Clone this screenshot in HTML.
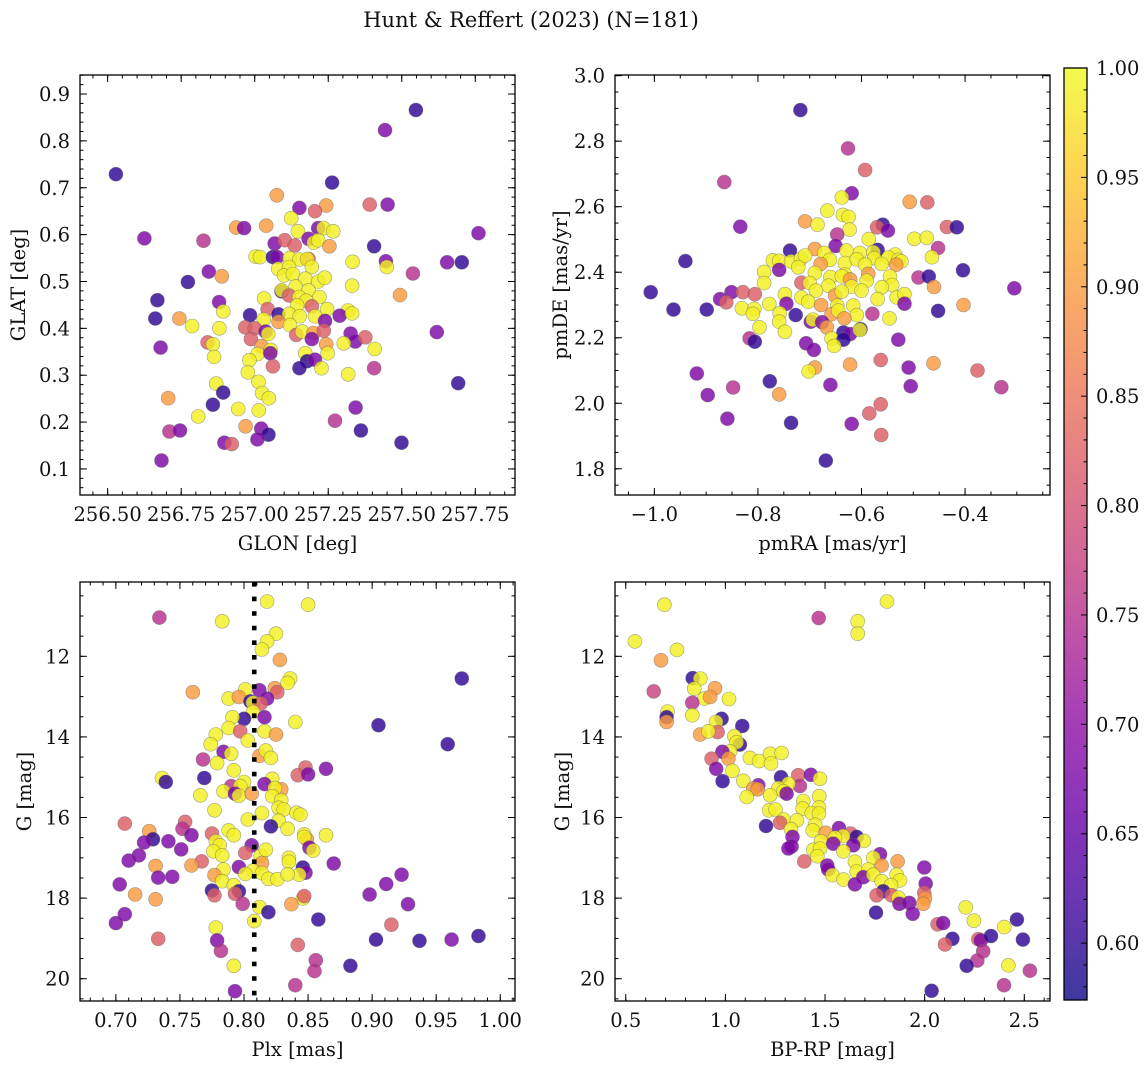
<!DOCTYPE html>
<html><head><meta charset="utf-8"><style>
html,body{margin:0;padding:0;background:#fff;}
svg{display:block;font-family:"DejaVu Serif","Liberation Serif",serif;}
</style></head><body>
<svg id="fig" width="1148" height="1068" viewBox="0 0 1148 1068" xmlns="http://www.w3.org/2000/svg">
<rect width="1148" height="1068" fill="#fff"/>
<text x="531" y="27" text-anchor="middle" font-size="21" fill="#111">Hunt &amp; Reffert (2023) (N=181)</text>
</svg>
<script>
// ---- data: [x, y, membership probability] ----
const skyPoints = [
[257.548,0.866,0.60],[257.443,0.823,0.68],[256.528,0.729,0.60],[257.263,0.711,0.60],[257.075,0.684,0.90],[257.152,0.657,0.68],[257.243,0.662,0.90],[257.205,0.650,0.82],[257.391,0.664,0.82],[257.452,0.664,0.68],
[257.761,0.603,0.68],[256.625,0.592,0.68],[256.826,0.587,0.75],[257.124,0.635,0.99],[256.937,0.615,0.90],[256.964,0.614,0.68],[257.039,0.619,0.90],[257.216,0.614,0.68],[257.234,0.614,0.99],[257.267,0.607,0.99],
[257.147,0.607,0.99],[257.068,0.581,0.68],[257.102,0.588,0.82],[257.136,0.577,0.82],[257.183,0.591,0.68],[257.201,0.583,0.99],[257.216,0.588,0.99],[257.254,0.575,0.90],[257.406,0.575,0.60],[257.003,0.553,0.99],
[257.018,0.552,0.99],[257.062,0.552,0.60],[257.076,0.552,0.68],[257.119,0.550,0.99],[257.152,0.547,0.99],[257.183,0.548,0.82],[257.178,0.548,0.99],[257.333,0.542,0.99],[257.446,0.543,0.68],[257.449,0.531,0.99],
[257.654,0.541,0.68],[257.704,0.541,0.60],[257.538,0.517,0.75],[257.080,0.527,0.99],[257.117,0.531,0.99],[257.194,0.531,0.99],[257.100,0.513,0.99],[257.130,0.516,0.99],[256.844,0.521,0.68],[256.888,0.511,0.90],
[256.773,0.499,0.60],[257.172,0.506,0.99],[257.216,0.500,0.99],[257.238,0.508,0.99],[257.139,0.489,0.99],[257.331,0.491,0.99],[257.091,0.479,0.60],[257.092,0.481,0.99],[257.183,0.481,0.99],[257.117,0.470,0.82],
[257.151,0.467,0.99],[257.220,0.467,0.99],[257.494,0.471,0.90],[256.669,0.460,0.60],[256.879,0.456,0.68],[257.032,0.464,0.99],[257.175,0.459,0.99],[257.144,0.449,0.99],[257.194,0.447,0.82],[257.246,0.441,0.99],
[256.893,0.436,0.99],[257.317,0.438,0.99],[256.662,0.421,0.60],[256.744,0.421,0.90],[256.984,0.428,0.60],[257.044,0.441,0.82],[257.081,0.430,0.60],[257.117,0.431,0.99],[257.153,0.426,0.99],[257.205,0.426,0.99],
[257.289,0.427,0.68],[257.331,0.432,0.99],[257.031,0.419,0.99],[257.081,0.414,0.90],[257.239,0.416,0.68],[256.787,0.405,0.99],[256.880,0.400,0.99],[256.968,0.402,0.82],[257.000,0.400,0.82],[257.120,0.407,0.99],
[257.037,0.393,0.68],[257.046,0.388,0.99],[257.141,0.386,0.82],[257.161,0.393,0.99],[257.200,0.390,0.90],[257.235,0.395,0.82],[257.326,0.389,0.68],[257.619,0.392,0.68],[256.987,0.377,0.82],[257.194,0.377,0.68],
[257.342,0.372,0.68],[257.376,0.381,0.82],[256.680,0.359,0.68],[256.840,0.370,0.82],[256.858,0.366,0.99],[257.023,0.362,0.90],[257.243,0.366,0.90],[257.303,0.368,0.99],[257.054,0.354,0.99],[257.248,0.347,0.99],
[257.408,0.356,0.99],[256.862,0.339,0.99],[257.010,0.345,0.99],[257.053,0.347,0.68],[257.172,0.347,0.99],[256.982,0.332,0.99],[257.178,0.330,0.60],[257.205,0.333,0.68],[257.062,0.319,0.82],[257.152,0.315,0.60],
[257.227,0.315,0.99],[257.406,0.315,0.75],[256.977,0.306,0.99],[257.318,0.302,0.99],[257.692,0.283,0.60],[256.869,0.282,0.99],[257.013,0.286,0.99],[256.893,0.263,0.60],[257.025,0.262,0.99],[257.048,0.251,0.99],
[256.706,0.251,0.90],[256.858,0.237,0.60],[257.343,0.231,0.68],[256.944,0.228,0.99],[257.014,0.225,0.99],[256.808,0.212,0.99],[257.273,0.203,0.75],[256.969,0.191,0.90],[256.710,0.180,0.75],[256.746,0.182,0.68],
[257.361,0.182,0.60],[257.022,0.186,0.68],[257.047,0.173,0.60],[257.009,0.163,0.68],[256.897,0.156,0.68],[256.922,0.153,0.82],[257.499,0.156,0.60],[256.683,0.118,0.68]
];
const pmPoints = [
[-0.718,2.895,0.60],[-0.626,2.778,0.75],[-0.593,2.712,0.82],[-0.865,2.675,0.75],[-0.619,2.641,0.68],[-0.638,2.628,0.99],[-0.507,2.615,0.90],[-0.473,2.613,0.82],[-0.666,2.588,0.99],[-0.636,2.575,0.99],
[-0.625,2.569,0.99],[-0.709,2.555,0.90],[-0.685,2.545,0.99],[-0.834,2.539,0.68],[-0.559,2.545,0.60],[-0.570,2.537,0.82],[-0.549,2.527,0.68],[-0.435,2.538,0.82],[-0.416,2.537,0.60],[-0.623,2.530,0.99],
[-0.647,2.515,0.75],[-0.586,2.501,0.99],[-0.498,2.502,0.99],[-0.474,2.505,0.99],[-0.650,2.480,0.68],[-0.452,2.474,0.75],[-0.738,2.466,0.60],[-0.690,2.471,0.90],[-0.629,2.466,0.99],[-0.569,2.468,0.60],
[-0.672,2.459,0.99],[-0.603,2.459,0.99],[-0.577,2.461,0.99],[-0.535,2.454,0.99],[-0.464,2.446,0.99],[-0.940,2.434,0.60],[-0.771,2.436,0.99],[-0.759,2.435,0.99],[-0.736,2.433,0.99],[-0.717,2.441,0.99],
[-0.709,2.451,0.99],[-0.661,2.438,0.99],[-0.632,2.428,0.99],[-0.609,2.439,0.99],[-0.575,2.443,0.99],[-0.548,2.445,0.99],[-0.529,2.438,0.99],[-0.523,2.433,0.99],[-0.722,2.415,0.99],[-0.679,2.425,0.90],
[-0.593,2.423,0.99],[-0.561,2.425,0.99],[-0.533,2.423,0.90],[-0.759,2.407,0.68],[-0.404,2.406,0.60],[-0.788,2.401,0.99],[-0.690,2.398,0.99],[-0.632,2.393,0.99],[-0.587,2.395,0.90],[-0.660,2.385,0.99],
[-0.638,2.388,0.99],[-0.490,2.384,0.75],[-0.470,2.387,0.60],[-0.545,2.387,0.99],[-0.788,2.367,0.99],[-0.716,2.368,0.82],[-0.700,2.367,0.99],[-0.664,2.359,0.99],[-0.622,2.378,0.90],[-0.590,2.374,0.99],
[-0.541,2.361,0.99],[-0.460,2.355,0.90],[-0.305,2.351,0.68],[-1.007,2.339,0.60],[-0.851,2.339,0.68],[-0.829,2.339,0.82],[-0.806,2.333,0.82],[-0.688,2.344,0.99],[-0.619,2.356,0.99],[-0.600,2.344,0.99],
[-0.561,2.354,0.99],[-0.873,2.318,0.68],[-0.861,2.308,0.82],[-0.748,2.333,0.99],[-0.716,2.323,0.99],[-0.651,2.329,0.90],[-0.638,2.341,0.99],[-0.569,2.318,0.99],[-0.532,2.323,0.99],[-0.517,2.333,0.99],
[-0.517,2.304,0.68],[-0.403,2.300,0.90],[-0.963,2.286,0.60],[-0.899,2.286,0.60],[-0.831,2.290,0.99],[-0.807,2.288,0.99],[-0.778,2.303,0.99],[-0.745,2.304,0.68],[-0.703,2.310,0.99],[-0.678,2.300,0.90],
[-0.647,2.298,0.99],[-0.616,2.298,0.99],[-0.452,2.282,0.60],[-0.810,2.273,0.99],[-0.758,2.275,0.99],[-0.727,2.269,0.60],[-0.658,2.272,0.90],[-0.645,2.283,0.99],[-0.609,2.269,0.99],[-0.579,2.273,0.75],
[-0.546,2.259,0.99],[-0.633,2.259,0.90],[-0.759,2.249,0.99],[-0.698,2.249,0.68],[-0.694,2.255,0.99],[-0.676,2.247,0.68],[-0.797,2.232,0.99],[-0.667,2.232,0.90],[-0.748,2.218,0.99],[-0.635,2.216,0.60],
[-0.622,2.211,0.68],[-0.602,2.226,0.60],[-0.603,2.224,0.99],[-0.816,2.198,0.75],[-0.806,2.188,0.60],[-0.658,2.198,0.99],[-0.635,2.194,0.60],[-0.529,2.194,0.68],[-0.707,2.183,0.68],[-0.692,2.163,0.68],
[-0.653,2.175,0.99],[-0.622,2.118,0.90],[-0.563,2.132,0.82],[-0.461,2.122,0.90],[-0.509,2.109,0.68],[-0.690,2.109,0.90],[-0.702,2.097,0.99],[-0.376,2.100,0.82],[-0.918,2.091,0.68],[-0.777,2.067,0.60],
[-0.660,2.056,0.68],[-0.505,2.052,0.68],[-0.848,2.048,0.75],[-0.330,2.049,0.75],[-0.897,2.025,0.68],[-0.759,2.027,0.90],[-0.563,1.997,0.82],[-0.585,1.969,0.82],[-0.859,1.953,0.68],[-0.736,1.940,0.60],
[-0.619,1.937,0.68],[-0.562,1.903,0.82],[-0.669,1.825,0.60]
];
const plxPoints = [
[0.818,10.64,0.99],[0.850,10.72,0.99],[0.734,11.04,0.75],[0.783,11.13,0.99],[0.825,11.44,0.99],[0.818,11.63,0.99],[0.814,11.83,0.99],[0.828,12.09,0.90],[0.970,12.55,0.60],[0.836,12.55,0.99],
[0.834,12.66,0.99],[0.760,12.89,0.90],[0.801,12.82,0.99],[0.812,12.84,0.68],[0.824,12.79,0.90],[0.826,12.89,0.82],[0.788,13.05,0.99],[0.796,13.01,0.90],[0.818,13.05,0.68],[0.805,13.12,0.60],
[0.807,13.15,0.99],[0.813,13.17,0.82],[0.807,13.38,0.99],[0.800,13.55,0.60],[0.816,13.51,0.68],[0.791,13.51,0.99],[0.788,13.78,0.99],[0.840,13.63,0.99],[0.905,13.71,0.60],[0.797,13.86,0.82],
[0.816,13.86,0.99],[0.825,13.94,0.90],[0.778,13.94,0.99],[0.803,14.09,0.99],[0.774,14.18,0.99],[0.959,14.18,0.60],[0.784,14.37,0.68],[0.790,14.42,0.99],[0.812,14.47,0.90],[0.817,14.34,0.99],
[0.821,14.52,0.99],[0.768,14.56,0.75],[0.779,14.65,0.99],[0.792,14.83,0.99],[0.848,14.76,0.82],[0.842,14.95,0.82],[0.850,14.93,0.68],[0.864,14.79,0.68],[0.736,15.02,0.99],[0.739,15.12,0.60],
[0.769,15.02,0.60],[0.822,15.04,0.99],[0.800,15.12,0.99],[0.816,15.17,0.68],[0.790,15.22,0.75],[0.797,15.22,0.99],[0.829,15.30,0.90],[0.784,15.35,0.99],[0.793,15.41,0.68],[0.796,15.46,0.99],
[0.806,15.41,0.90],[0.824,15.27,0.99],[0.822,15.47,0.99],[0.766,15.45,0.99],[0.829,15.57,0.99],[0.827,15.76,0.99],[0.831,15.80,0.99],[0.777,15.82,0.99],[0.814,15.89,0.99],[0.841,15.88,0.99],
[0.844,15.93,0.99],[0.803,16.05,0.99],[0.827,16.08,0.99],[0.821,16.22,0.60],[0.834,16.28,0.99],[0.707,16.15,0.82],[0.754,16.11,0.82],[0.752,16.28,0.75],[0.726,16.34,0.90],[0.775,16.40,0.82],
[0.788,16.32,0.99],[0.792,16.44,0.99],[0.759,16.44,0.68],[0.729,16.54,0.60],[0.722,16.62,0.68],[0.741,16.59,0.68],[0.847,16.42,0.99],[0.849,16.54,0.90],[0.847,16.48,0.99],[0.864,16.44,0.99],
[0.778,16.59,0.99],[0.781,16.69,0.99],[0.806,16.69,0.68],[0.851,16.75,0.68],[0.854,16.82,0.99],[0.751,16.79,0.68],[0.776,16.84,0.99],[0.783,16.94,0.99],[0.801,16.88,0.82],[0.813,16.95,0.99],
[0.817,16.80,0.99],[0.835,17.00,0.99],[0.710,17.07,0.68],[0.718,16.94,0.68],[0.767,17.09,0.82],[0.759,17.19,0.90],[0.814,17.13,0.90],[0.835,17.10,0.99],[0.870,17.14,0.68],[0.731,17.20,0.90],
[0.796,17.23,0.68],[0.846,17.24,0.60],[0.807,17.32,0.99],[0.784,17.29,0.99],[0.814,17.38,0.99],[0.848,17.37,0.68],[0.843,17.42,0.99],[0.733,17.49,0.68],[0.744,17.47,0.68],[0.777,17.43,0.90],
[0.801,17.40,0.99],[0.819,17.52,0.99],[0.826,17.53,0.99],[0.834,17.41,0.99],[0.923,17.42,0.68],[0.783,17.58,0.99],[0.703,17.66,0.68],[0.911,17.65,0.68],[0.792,17.68,0.99],[0.775,17.81,0.60],
[0.796,17.83,0.60],[0.777,17.93,0.82],[0.793,17.89,0.82],[0.898,17.91,0.68],[0.715,17.91,0.90],[0.731,18.03,0.90],[0.846,18.01,0.99],[0.847,17.95,0.82],[0.799,18.14,0.75],[0.837,18.15,0.90],
[0.928,18.15,0.68],[0.812,18.22,0.99],[0.707,18.40,0.68],[0.819,18.35,0.60],[0.858,18.53,0.60],[0.808,18.57,0.99],[0.700,18.62,0.68],[0.915,18.66,0.82],[0.778,18.73,0.99],[0.733,19.01,0.82],
[0.779,19.05,0.68],[0.903,19.03,0.60],[0.937,19.06,0.60],[0.962,19.03,0.68],[0.983,18.94,0.60],[0.842,19.16,0.82],[0.782,19.31,0.75],[0.856,19.54,0.75],[0.855,19.81,0.75],[0.792,19.68,0.99],
[0.883,19.68,0.60],[0.840,20.16,0.75],[0.793,20.31,0.68]
];
const cmdPoints = [
[0.694,10.72,0.99],[1.811,10.64,0.99],[1.468,11.05,0.75],[1.664,11.13,0.99],[1.664,11.44,0.99],[0.546,11.63,0.99],[0.757,11.84,0.99],[0.677,12.10,0.90],[0.836,12.54,0.60],[0.874,12.55,0.99],
[0.640,12.87,0.78],[0.844,12.80,0.99],[0.948,12.79,0.90],[0.894,13.05,0.99],[0.923,13.01,0.90],[1.018,13.06,0.99],[0.834,13.15,0.75],[0.710,13.37,0.99],[0.705,13.51,0.60],[0.705,13.63,0.90],
[0.834,13.46,0.99],[0.981,13.55,0.60],[1.085,13.73,0.60],[0.953,13.63,0.99],[0.961,13.88,0.82],[0.873,13.94,0.90],[0.914,13.86,0.99],[1.045,13.98,0.99],[1.073,14.19,0.60],[1.056,14.13,0.99],
[1.023,14.36,0.99],[0.985,14.37,0.68],[0.931,14.54,0.82],[1.015,14.54,0.90],[1.123,14.52,0.99],[1.169,14.60,0.99],[1.224,14.42,0.99],[1.229,14.66,0.99],[1.282,14.40,0.99],[0.954,14.79,0.68],
[1.035,14.84,0.99],[0.986,15.10,0.60],[1.090,15.09,0.99],[1.279,15.00,0.60],[1.366,14.95,0.82],[1.429,14.94,0.68],[1.475,15.04,0.99],[1.374,15.22,0.75],[1.316,15.16,0.99],[1.165,15.20,0.68],
[1.140,15.28,0.90],[1.162,15.30,0.90],[1.266,15.27,0.99],[1.291,15.35,0.99],[1.307,15.41,0.68],[1.107,15.49,0.99],[1.225,15.45,0.99],[1.471,15.47,0.99],[1.391,15.59,0.99],[1.470,15.75,0.99],
[1.388,15.78,0.99],[1.433,15.89,0.99],[1.470,15.90,0.99],[1.220,15.82,0.99],[1.252,15.80,0.99],[1.292,16.05,0.99],[1.274,16.13,0.82],[1.359,16.07,0.99],[1.204,16.21,0.60],[1.450,16.18,0.99],
[1.329,16.29,0.99],[1.438,16.32,0.99],[1.503,16.38,0.90],[1.570,16.26,0.68],[1.628,16.40,0.82],[1.659,16.48,0.60],[1.590,16.46,0.99],[1.550,16.50,0.99],[1.695,16.58,0.99],[1.480,16.59,0.99],
[1.541,16.65,0.68],[1.337,16.48,0.68],[1.332,16.72,0.68],[1.316,16.77,0.68],[1.642,16.69,0.68],[1.441,16.80,0.99],[1.475,16.77,0.99],[1.592,16.84,0.99],[1.461,16.96,0.99],[1.776,16.91,0.68],
[1.742,17.00,0.99],[1.396,17.09,0.82],[1.650,17.10,0.99],[1.864,17.09,0.90],[1.784,17.19,0.90],[1.511,17.19,0.68],[1.516,17.29,0.68],[1.659,17.34,0.99],[1.717,17.29,0.99],[1.998,17.24,0.68],
[1.537,17.43,0.99],[1.592,17.54,0.99],[1.692,17.48,0.68],[1.742,17.42,0.99],[1.859,17.42,0.99],[1.876,17.56,0.99],[1.650,17.66,0.68],[1.784,17.58,0.99],[1.831,17.68,0.99],[2.005,17.64,0.68],
[1.792,17.83,0.60],[1.759,17.93,0.82],[1.834,17.93,0.82],[1.868,17.99,0.99],[1.998,17.87,0.82],[2.001,18.01,0.90],[1.993,18.14,0.90],[1.873,18.14,0.68],[1.923,18.12,0.68],[1.940,18.39,0.68],
[1.756,18.36,0.60],[2.206,18.23,0.99],[2.247,18.56,0.99],[2.065,18.65,0.82],[2.093,18.62,0.68],[2.463,18.53,0.60],[2.399,18.72,0.99],[2.139,19.01,0.60],[2.102,19.15,0.82],[2.269,19.02,0.82],
[2.282,19.05,0.68],[2.333,18.94,0.60],[2.493,19.03,0.60],[2.294,19.32,0.75],[2.264,19.55,0.75],[2.211,19.68,0.60],[2.420,19.67,0.99],[2.528,19.80,0.75],[2.398,20.16,0.75],[2.035,20.30,0.60]
];
// ---- ticks ----
const glonTicks = [256.50, 256.75, 257.00, 257.25, 257.50, 257.75];
const glatTicks = [0.1, 0.2, 0.3, 0.4, 0.5, 0.6, 0.7, 0.8, 0.9];
const pmraTicks = [-1.0, -0.8, -0.6, -0.4];
const pmdeTicks = [1.8, 2.0, 2.2, 2.4, 2.6, 2.8, 3.0];
const plxTicks = [0.70, 0.75, 0.80, 0.85, 0.90, 0.95, 1.00];
const gTicks = [12, 14, 16, 18, 20];
const bprpTicks = [0.5, 1.0, 1.5, 2.0, 2.5];
const cbarTicks = [0.60, 0.65, 0.70, 0.75, 0.80, 0.85, 0.90, 0.95, 1.00];
const plxRef = [0.808];
const probRange = [0.574, 1.0];

const FS = 19.5;
const NS = 'http://www.w3.org/2000/svg';
const svg = document.getElementById('fig');
function mk(tag, attrs, parent) {
  const e = document.createElementNS(NS, tag);
  for (const k in attrs) e.setAttribute(k, attrs[k]);
  (parent || svg).appendChild(e);
  return e;
}
const plasma = ['#0d0887','#41049d','#6a00a8','#8f0da4','#b12a90','#cc4778','#e16462','#f2844b','#fca636','#fcce25','#f0f921'];
function hex(h){return [parseInt(h.substr(1,2),16),parseInt(h.substr(3,2),16),parseInt(h.substr(5,2),16)];}
function cmap(v){
  let t=(v-probRange[0])/(probRange[1]-probRange[0]); t=Math.max(0,Math.min(1,t));
  const f=t*10, i=Math.min(9,Math.floor(f)), r=f-i;
  const a=hex(plasma[i]), b=hex(plasma[i+1]);
  return 'rgb('+a.map((c,k)=>Math.round(c+(b[k]-c)*r)).join(',')+')';
}
function lin(d0,d1,r0,r1){return v=>r0+(v-d0)/(d1-d0)*(r1-r0);}

function panel(cfg){
  const g = mk('g',{});
  
  
  const sx = lin(cfg.xd[0],cfg.xd[1],cfg.x0,cfg.x1);
  const sy = lin(cfg.yd[0],cfg.yd[1],cfg.y1,cfg.y0);
  const ptsG = mk('g',{},g);
  
  
  cfg.pts.forEach(p=>{
    const c = mk('circle',{cx:sx(p[0]).toFixed(1),cy:sy(p[1]).toFixed(1),r:7,fill:cmap(p[2]),'fill-opacity':0.82,stroke:'#666','stroke-opacity':0.6,'stroke-width':0.6},ptsG);
    
    
  });
  if (cfg.vline) cfg.vline.forEach(v=>{
    const l = mk('line',{x1:sx(v),x2:sx(v),y1:cfg.y0,y2:cfg.y1,stroke:'#000','stroke-width':4.6,'stroke-dasharray':'4.6 10'},g);
    
    
  });
  const tg = mk('g',{stroke:'#000','stroke-width':1},g);
  function ticksX(step, len){
    const s = Math.ceil(Math.min(cfg.xd[0],cfg.xd[1])/step-1e-6);
    for(let k=s; k*step<=Math.max(cfg.xd[0],cfg.xd[1])+1e-9; k++){
      const x=sx(k*step);
      mk('line',{x1:x,x2:x,y1:cfg.y1,y2:cfg.y1-len},tg);
      mk('line',{x1:x,x2:x,y1:cfg.y0,y2:cfg.y0+len},tg);
    }
  }
  function ticksY(step, len){
    const lo=Math.min(cfg.yd[0],cfg.yd[1]), hi=Math.max(cfg.yd[0],cfg.yd[1]);
    for(let k=Math.ceil(lo/step-1e-6); k*step<=hi+1e-9; k++){
      const y=sy(k*step);
      mk('line',{x1:cfg.x0,x2:cfg.x0+len,y1:y,y2:y},tg);
      mk('line',{x1:cfg.x1,x2:cfg.x1-len,y1:y,y2:y},tg);
    }
  }
  ticksX(cfg.xminor,3.5); ticksY(cfg.yminor,3.5);
  cfg.xt.forEach(v=>{const x=sx(v);
    mk('line',{x1:x,x2:x,y1:cfg.y1,y2:cfg.y1-7},tg); mk('line',{x1:x,x2:x,y1:cfg.y0,y2:cfg.y0+7},tg);
    const t=mk('text',{x:x,y:cfg.y1+26,'text-anchor':'middle','font-size':FS,fill:'#111'},g);
    t.textContent=cfg.xfmt(v);
    
    
  });
  cfg.yt.forEach(v=>{const y=sy(v);
    mk('line',{x1:cfg.x0,x2:cfg.x0+7,y1:y,y2:y},tg); mk('line',{x1:cfg.x1,x2:cfg.x1-7,y1:y,y2:y},tg);
    const t=mk('text',{x:cfg.x0-10,y:y+7,'text-anchor':'end','font-size':FS,fill:'#111'},g);
    t.textContent=cfg.yfmt(v);
    
    
  });
  const fr = mk('rect',{x:cfg.x0,y:cfg.y0,width:cfg.x1-cfg.x0,height:cfg.y1-cfg.y0,fill:'none',stroke:'#000','stroke-width':1.3},g);
  
  
  const xl = mk('text',{x:(cfg.x0+cfg.x1)/2,y:cfg.y1+55,'text-anchor':'middle','font-size':FS,fill:'#111'},g);
  xl.textContent=cfg.xlabel;
  
  
  const yc=(cfg.y0+cfg.y1)/2, yx=cfg.ylx;
  const yl = mk('text',{x:yx,y:yc,'text-anchor':'middle','font-size':FS,fill:'#111',transform:'rotate(-90 '+yx+' '+yc+')'},g);
  yl.textContent=cfg.ylabel;
  
  
}
const f2=v=>v.toFixed(2), f1=v=>v.toFixed(1).replace('-','\u2212'), f0=v=>v.toFixed(0);
panel({name:'sky-position-panel',pts:skyPoints,x0:80,x1:515,y0:75,y1:495,xd:[256.406,257.885],yd:[0.0444,0.9406],xt:glonTicks,yt:glatTicks,xminor:0.05,yminor:0.02,xfmt:f2,yfmt:f1,xlabel:'GLON [deg]',ylabel:'GLAT [deg]',ylx:25});
panel({name:'proper-motion-panel',pts:pmPoints,x0:615,x1:1050,y0:75,y1:495,xd:[-1.076,-0.236],yd:[1.720,3.002],xt:pmraTicks,yt:pmdeTicks,xminor:0.05,yminor:0.05,xfmt:f1,yfmt:f1,xlabel:'pmRA [mas/yr]',ylabel:'pmDE [mas/yr]',ylx:567});
panel({name:'parallax-magnitude-panel',pts:plxPoints,x0:80,x1:515,y0:582,y1:1001,xd:[0.672,1.0115],yd:[20.553,10.156],xt:plxTicks,yt:gTicks,xminor:0.01,yminor:0.5,xfmt:f2,yfmt:f0,xlabel:'Plx [mas]',ylabel:'G [mag]',ylx:31,vline:plxRef});
panel({name:'color-magnitude-panel',pts:cmdPoints,x0:615,x1:1050,y0:582,y1:1001,xd:[0.446,2.629],yd:[20.553,10.156],xt:bprpTicks,yt:gTicks,xminor:0.1,yminor:0.5,xfmt:f1,yfmt:f0,xlabel:'BP-RP [mag]',ylabel:'G [mag]',ylx:569});

// colorbar
const cb = mk('g',{});


const defs = mk('defs',{},cb);
const grad = mk('linearGradient',{id:'cbg',x1:0,y1:1,x2:0,y2:0},defs);
for(let i=0;i<=20;i++){const v=probRange[0]+(probRange[1]-probRange[0])*i/20; mk('stop',{offset:(i/20),'stop-color':cmap(v)},grad);}
const cbX0=1064, cbX1=1087, cbY0=68, cbY1=1000;
const cs = lin(probRange[0],probRange[1],cbY1,cbY0);
mk('rect',{x:cbX0,y:cbY0,width:cbX1-cbX0,height:cbY1-cbY0,fill:'url(#cbg)','fill-opacity':0.8},cb);
for(let k=Math.ceil(probRange[0]*100); k<=100; k++){const y=cs(k/100); mk('line',{x1:cbX1,x2:cbX1-(k%5===0?6:3.5),y1:y,y2:y,stroke:'#000','stroke-width':1},cb);}
cbarTicks.forEach(v=>{
  const t=mk('text',{x:cbX1+9,y:cs(v)+7,'font-size':FS,fill:'#111'},cb);
  t.textContent=v.toFixed(2);
  
  
});
mk('rect',{x:cbX0,y:cbY0,width:cbX1-cbX0,height:cbY1-cbY0,fill:'none',stroke:'#000','stroke-width':1.3},cb);
</script>
</body></html>
